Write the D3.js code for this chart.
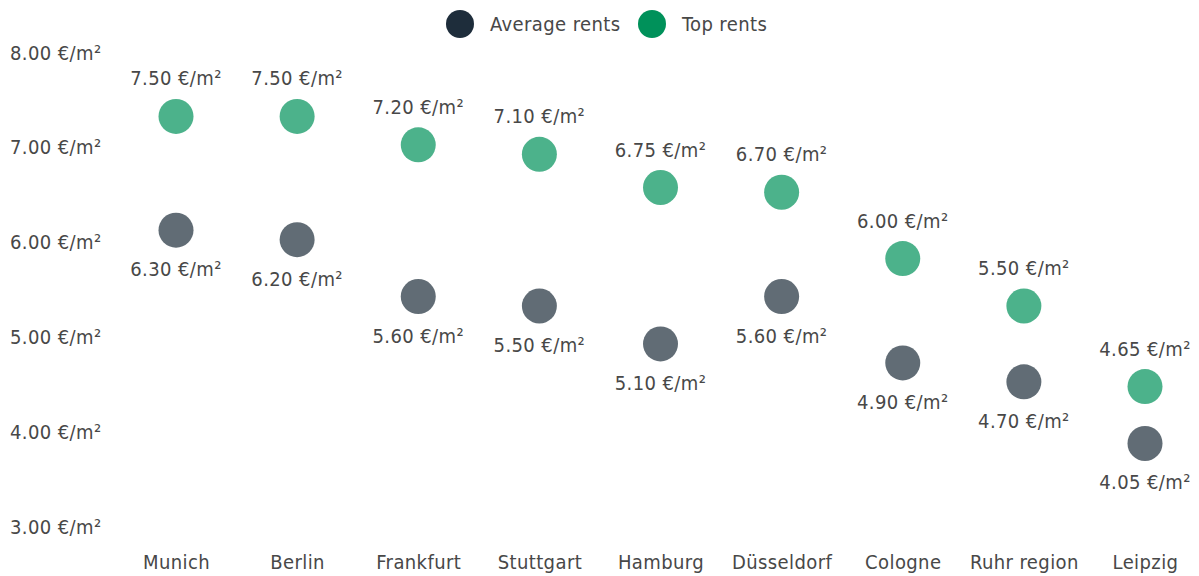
<!DOCTYPE html>
<html>
<head>
<meta charset="utf-8">
<script src="https://cdn.jsdelivr.net/npm/d3@7"></script>
<style>
  body { margin: 0; background: #fff; }
  text { font-family: "DejaVu Sans Condensed", "Roboto", sans-serif; fill: #484848; letter-spacing: 0.4px; }
</style>
</head>
<body>
<svg id="chart" width="1199" height="576"></svg>
<script>
// data
var cities = ["Munich", "Berlin", "Frankfurt", "Stuttgart", "Hamburg", "Düsseldorf", "Cologne", "Ruhr region", "Leipzig"];
var averageRents = [6.30, 6.20, 5.60, 5.50, 5.10, 5.60, 4.90, 4.70, 4.05];
var topRents = [7.50, 7.50, 7.20, 7.10, 6.75, 6.70, 6.00, 5.50, 4.65];
var yTicks = [3, 4, 5, 6, 7, 8];

var seriesNames = ["Average rents", "Top rents"];
var legendColors = ["#1e2d3b", "#00915a"];

var svg = d3.select("#chart");
var fmt = function (v) { return d3.format(".2f")(v) + " €/m²"; };
var fs = "20px";

var x = d3.scalePoint().domain(cities).range([176, 1145]);
var y = d3.scaleLinear().domain([3, 8]).range([543, 69]);

// y axis labels sit above the tick position
var yAxis = svg.append("g")
    .attr("transform", "translate(10,0)")
    .call(d3.axisRight(y).tickValues(yTicks).tickSize(0).tickFormat(fmt));
yAxis.select(".domain").remove();
yAxis.selectAll("text")
    .attr("x", 0).attr("dy", "-0.5em")
    .style("font-size", fs).style("fill", "#484848");

// x axis
var xAxis = svg.append("g")
    .attr("transform", "translate(0,562)")
    .call(d3.axisBottom(x).tickSize(0));
xAxis.select(".domain").remove();
xAxis.selectAll("text").attr("y", 0).attr("dy", "0.35em")
    .style("font-size", fs).style("fill", "#484848");

var rows = cities.map(function (c, i) {
  return { city: c, avg: averageRents[i], top: topRents[i] };
});

var r = 17.5;

// average dots + labels below
svg.append("g").selectAll("circle").data(rows).enter().append("circle")
    .attr("cx", function (d) { return x(d.city); })
    .attr("cy", function (d) { return y(d.avg); })
    .attr("r", r)
    .attr("fill", legendColors[0]).attr("fill-opacity", 0.7);

svg.append("g").selectAll("text").data(rows).enter().append("text")
    .attr("x", function (d) { return x(d.city); })
    .attr("y", function (d) { return y(d.avg) + 39; })
    .attr("dy", "0.35em")
    .attr("text-anchor", "middle")
    .style("font-size", fs)
    .text(function (d) { return fmt(d.avg); });

// top dots + labels above
svg.append("g").selectAll("circle").data(rows).enter().append("circle")
    .attr("cx", function (d) { return x(d.city); })
    .attr("cy", function (d) { return y(d.top); })
    .attr("r", r)
    .attr("fill", legendColors[1]).attr("fill-opacity", 0.7);

svg.append("g").selectAll("text").data(rows).enter().append("text")
    .attr("x", function (d) { return x(d.city); })
    .attr("y", function (d) { return y(d.top) - 38; })
    .attr("dy", "0.35em")
    .attr("text-anchor", "middle")
    .style("font-size", fs)
    .text(function (d) { return fmt(d.top); });

// legend
var legendX = [460, 652];
var legend = svg.append("g").selectAll("g").data(seriesNames).enter().append("g")
    .attr("transform", function (d, i) { return "translate(" + legendX[i] + ",24)"; });
legend.append("circle").attr("r", 14)
    .attr("fill", function (d, i) { return legendColors[i]; });
legend.append("text").attr("x", 30).attr("dy", "0.35em")
    .style("font-size", fs)
    .text(function (d) { return d; });
</script>
</body>
</html>
